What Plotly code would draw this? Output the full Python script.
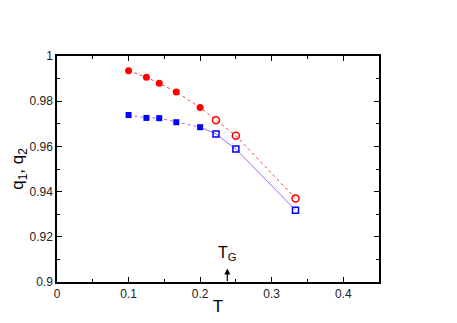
import plotly.graph_objects as go

# temperatures
T = [0.1, 0.125, 0.1429, 0.1667, 0.2, 0.2222, 0.25, 0.3333]
q1 = [0.9935, 0.9906, 0.9879, 0.9841, 0.9772, 0.9716, 0.9647, 0.9370]
q2 = [0.9739, 0.9726, 0.9725, 0.9707, 0.9685, 0.9655, 0.9588, 0.9318]
n_filled = 5
T_G = 0.238

fig = go.Figure()
# lines
fig.add_trace(go.Scatter(x=T, y=q1, mode='lines', line=dict(color='#ff4040', width=1, dash='dot'), showlegend=False))
fig.add_trace(go.Scatter(x=T[:n_filled], y=q2[:n_filled], mode='lines', line=dict(color='#b060ff', width=1, dash='dot'), showlegend=False))
fig.add_trace(go.Scatter(x=T[n_filled-1:], y=q2[n_filled-1:], mode='lines', line=dict(color='#b060ff', width=1), showlegend=False))
# markers
fig.add_trace(go.Scatter(x=T[:n_filled], y=q1[:n_filled], mode='markers',
                         marker=dict(symbol='circle', size=7, color='#ff0000'), showlegend=False))
fig.add_trace(go.Scatter(x=T[n_filled:], y=q1[n_filled:], mode='markers',
                         marker=dict(symbol='circle-open', size=7, color='#ff0000', line=dict(width=1.5)), showlegend=False))
fig.add_trace(go.Scatter(x=T[:n_filled], y=q2[:n_filled], mode='markers',
                         marker=dict(symbol='square', size=6, color='#0000ff'), showlegend=False))
fig.add_trace(go.Scatter(x=T[n_filled:], y=q2[n_filled:], mode='markers',
                         marker=dict(symbol='square-open', size=6, color='#0000ff', line=dict(width=1.5)), showlegend=False))

fig.add_annotation(x=T_G, y=0.906, ax=0, ay=14, axref='pixel', ayref='pixel', showarrow=True,
                   arrowhead=2, arrowsize=1, arrowwidth=1.2, arrowcolor='black', text='')
fig.add_annotation(x=T_G, y=0.9125, text='T<sub>G</sub>', showarrow=False,
                   font=dict(size=16, color='black'))

axis_style = dict(showline=True, linecolor='black', linewidth=1.5, mirror='ticks', ticks='inside',
                  ticklen=5, tickcolor='black', showgrid=False, zeroline=False, automargin=False,
                  tickfont=dict(size=12, color='#222'))
fig.update_xaxes(range=[0, 0.45], dtick=0.1,
                 minor=dict(dtick=0.05, ticks='inside', ticklen=3, tickcolor='black'),
                 title=dict(text='T', font=dict(size=17, color='black'), standoff=0), **axis_style)
fig.update_yaxes(range=[0.9, 1.0], dtick=0.02,
                 minor=dict(dtick=0.01, ticks='inside', ticklen=3, tickcolor='black'),
                 title=dict(text='q<sub>1</sub>, q<sub>2</sub>', font=dict(size=17, color='black'), standoff=2),
                 **axis_style)
fig.update_layout(width=457, height=323, margin=dict(l=49, r=86, t=48, b=49),
                  plot_bgcolor='white', paper_bgcolor='white',
                  font=dict(family='Liberation Sans, Arial, sans-serif'))
fig.write_html("out.html")
